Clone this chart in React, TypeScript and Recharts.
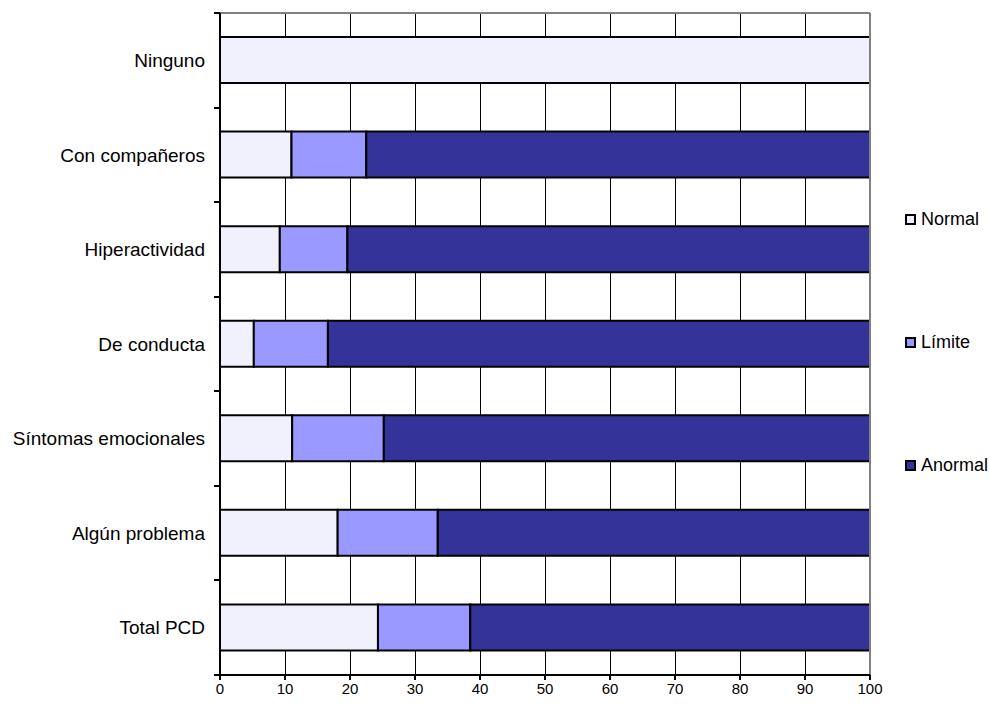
import React from 'react';
import { BarChart, Bar, XAxis, YAxis, CartesianGrid, ReferenceLine } from 'recharts';

const categories = ['Ninguno', 'Con compañeros', 'Hiperactividad', 'De conducta', 'Síntomas emocionales', 'Algún problema', 'Total PCD'];
const normalValues = [100, 11.0, 9.2, 5.2, 11.1, 18.1, 24.3];
const limiteValues = [0, 11.5, 10.4, 11.4, 14.1, 15.4, 14.2];
const anormalValues = [0, 77.5, 80.4, 83.4, 74.8, 66.5, 61.5];
const xTicks = [0, 10, 20, 30, 40, 50, 60, 70, 80, 90, 100];

const seriesNames = ['Normal', 'Límite', 'Anormal'];
const seriesColors = ['#F1F1FD', '#9999FF', '#333399'];

const data = categories.map((c, i) => ({
  name: c,
  Normal: normalValues[i],
  'Límite': limiteValues[i],
  Anormal: anormalValues[i],
}));

const FONT = '"Liberation Sans", Arial, sans-serif';
const CHART_W = 990;
const CHART_H = 706;
const MARGIN = { top: 13, right: 120, bottom: 0, left: 0 };
const X_AXIS_H = 31;
const Y_AXIS_W = 220;
const LABEL_GAP = 15;
const BAND = (CHART_H - MARGIN.top - MARGIN.bottom - X_AXIS_H) / categories.length;

const CatTick = (props: any) => {
  const { x, y, payload, index } = props;
  const axisX = x + LABEL_GAP;
  return (
    <g>
      <text x={x} y={y} dy="0.355em" textAnchor="end" fontSize={19} fontFamily={FONT} fill="#000" stroke="none">
        {payload.value}
      </text>
      <line x1={axisX - 6} x2={axisX} y1={y - BAND / 2} y2={y - BAND / 2} stroke="#000" strokeWidth={2} shapeRendering="crispEdges" />
      {index === categories.length - 1 && (
        <line x1={axisX - 6} x2={axisX} y1={y + BAND / 2} y2={y + BAND / 2} stroke="#000" strokeWidth={2} shapeRendering="crispEdges" />
      )}
    </g>
  );
};

export default function App() {
  return (
    <div style={{ position: 'absolute', left: 0, top: 0, width: CHART_W, height: CHART_H, background: '#fff', fontFamily: FONT }}>
      <BarChart
        width={CHART_W}
        height={CHART_H}
        data={data}
        layout="vertical"
        margin={MARGIN}
        barSize={46}
      >
        <CartesianGrid horizontal={false} vertical={true} stroke="#000" strokeWidth={1} shapeRendering="crispEdges" />
        <XAxis
          type="number"
          domain={[0, 100]}
          ticks={xTicks}
          interval={0}
          height={X_AXIS_H}
          axisLine={{ stroke: '#000', strokeWidth: 2 }}
          tickLine={{ stroke: '#000', strokeWidth: 2 }}
          tickSize={5}
          tickMargin={3}
          tick={{ fill: '#000', fontSize: 15, fontFamily: FONT }}
        />
        <YAxis
          type="category"
          dataKey="name"
          width={Y_AXIS_W}
          interval={0}
          tickLine={false}
          tickSize={0}
          tickMargin={LABEL_GAP}
          axisLine={{ stroke: '#000', strokeWidth: 2 }}
          tick={<CatTick />}
        />
        {seriesNames.map((s, i) => (
          <Bar
            key={s}
            dataKey={s}
            stackId="a"
            fill={seriesColors[i]}
            stroke="#000"
            strokeWidth={2}
            isAnimationActive={false}
          />
        ))}
        <ReferenceLine y={categories[0]} position="start" stroke="#808080" strokeWidth={2} />
        <ReferenceLine x={100} stroke="#808080" strokeWidth={2} />
      </BarChart>
      <div style={{ position: 'absolute', left: 905, top: 208, width: 85 }}>
        {seriesNames.map((s, i) => (
          <div key={s} style={{ height: 123, display: 'flex', alignItems: 'flex-start' }}>
            <div style={{ display: 'flex', alignItems: 'center', height: 22 }}>
              <span
                style={{
                  display: 'inline-block',
                  width: 7,
                  height: 7,
                  background: seriesColors[i],
                  border: '2px solid #000',
                  marginRight: 5,
                }}
              />
              <span style={{ fontSize: 18, color: '#000', fontFamily: FONT, lineHeight: '22px', whiteSpace: 'nowrap' }}>{s}</span>
            </div>
          </div>
        ))}
      </div>
    </div>
  );
}
